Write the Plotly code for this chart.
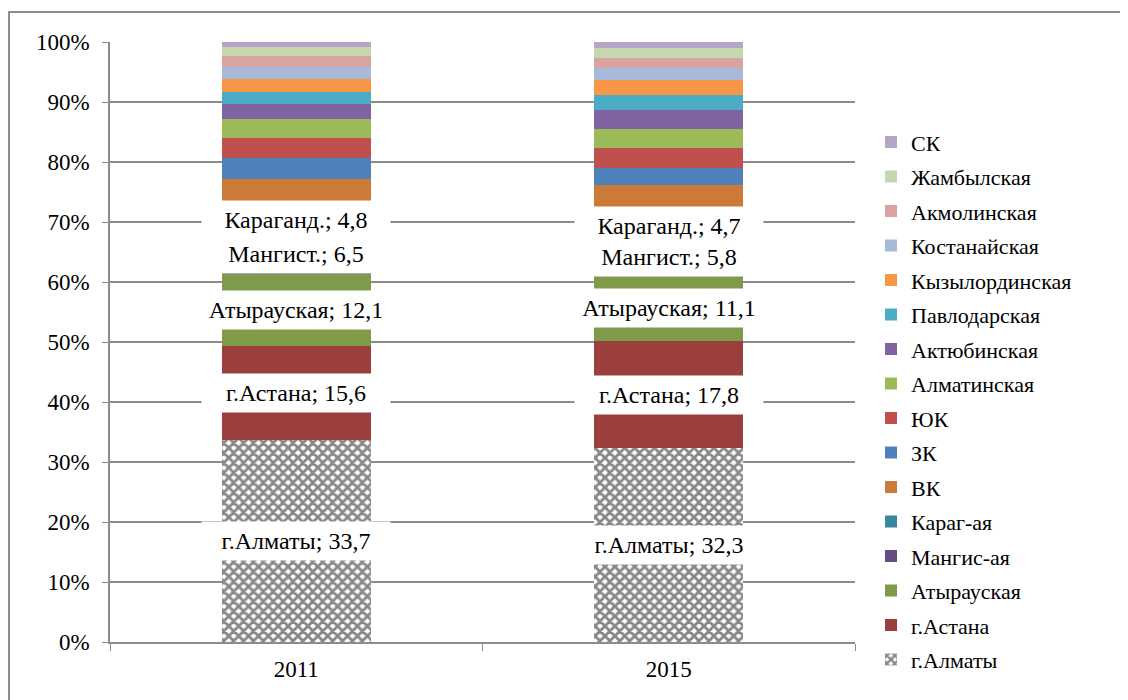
import plotly.graph_objects as go

years = ["2011", "2015"]

# series from bottom of the stack to top
regions = ["г.Алматы", "г.Астана", "Атырауская", "Мангис-ая", "Караг-ая", "ВК", "ЗК", "ЮК",
           "Алматинская", "Актюбинская", "Павлодарская", "Кызылординская", "Костанайская",
           "Акмолинская", "Жамбылская", "СК"]
values_2011 = [33.7, 15.6, 12.1, 6.5, 4.8, 4.5, 3.5, 3.3, 3.1, 2.6, 2.0, 2.1, 2.0, 1.8, 1.5, 0.9]
values_2015 = [32.3, 17.8, 11.1, 5.8, 4.7, 4.5, 2.8, 3.3, 3.2, 3.2, 2.4, 2.6, 2.0, 1.7, 1.6, 1.0]

# data-label names for the labelled series (first five)
label_names = ["г.Алматы", "г.Астана", "Атырауская", "Мангист.", "Караганд."]

colors = ["#FFFFFF", "#9B3F3D", "#7F9A48", "#654C84", "#36889E", "#CC7A38", "#4F81BD", "#C0504D",
          "#9BBB59", "#8064A2", "#4BACC6", "#F79646", "#A9B9D9", "#D9A3A2", "#C6D7AD", "#B5A6C9"]

FONT = "Liberation Serif, Times New Roman, serif"

fig = go.Figure()
n = len(regions)
for i, name in enumerate(regions):
    marker = dict(color=colors[i], line=dict(width=0))
    if i == 0:
        marker["pattern"] = dict(shape="x", fgcolor="#111111", bgcolor="#FFFFFF", size=7, solidity=0.65)
    fig.add_trace(go.Bar(
        x=years, y=[values_2011[i], values_2015[i]], name=name,
        marker=marker, legendgroup=f"g{i}", legendrank=n - i, hoverinfo="skip",
    ))

# data labels with white boxes (x given as category index on the category axis)
for j, vals in enumerate([values_2011, values_2015]):
    cum = 0.0
    for i, v in enumerate(vals):
        if i < len(label_names):
            txt = f"{label_names[i]}; {str(v).replace('.', ',')}"
            fig.add_annotation(x=j, y=cum + v / 2, xref="x", yref="y", text=txt, showarrow=False,
                               bgcolor="white", borderpad=6, width=176,
                               font=dict(family=FONT, size=24, color="black"))
        cum += v

fig.update_layout(
    barmode="stack",
    bargap=0.6,
    width=1128, height=700,
    margin=dict(l=102, r=281, t=34, b=66),
    paper_bgcolor="white", plot_bgcolor="white",
    font=dict(family=FONT, size=23, color="black"),
    showlegend=True,
    legend=dict(traceorder="grouped", tracegroupgap=2.9, maxheight=640,
                x=1.0215, xanchor="left", y=0.868, yanchor="top",
                font=dict(family=FONT, size=22, color="black"),
                bgcolor="rgba(0,0,0,0)"),
    yaxis=dict(range=[0, 100], dtick=10, ticksuffix="%", showgrid=True,
               gridcolor="#8C8C8C", gridwidth=1.5, showline=True, linecolor="#8C8C8C",
               linewidth=1.5, ticks="outside", ticklen=6, tickcolor="#8C8C8C",
               ticklabelstandoff=8, zeroline=False, fixedrange=True),
    xaxis=dict(type="category", range=[-0.5, 1.5], showline=True, linecolor="#8C8C8C",
               linewidth=1.5, ticks="outside", tickangle=0, ticklabelstandoff=6,
               tickson="boundaries", ticklen=7, tickcolor="#8C8C8C", showgrid=False,
               fixedrange=True),
)

# outer chart frame
fig.add_shape(type="rect", xref="paper", yref="paper",
              x0=(1 - 102) / 745, x1=(1200 - 102) / 745,
              y0=(634 - 760) / 600, y1=(634 - 4) / 600,
              line=dict(color="#8C8C8C", width=2), fillcolor="rgba(0,0,0,0)", layer="below")

fig.write_html("out.html")
